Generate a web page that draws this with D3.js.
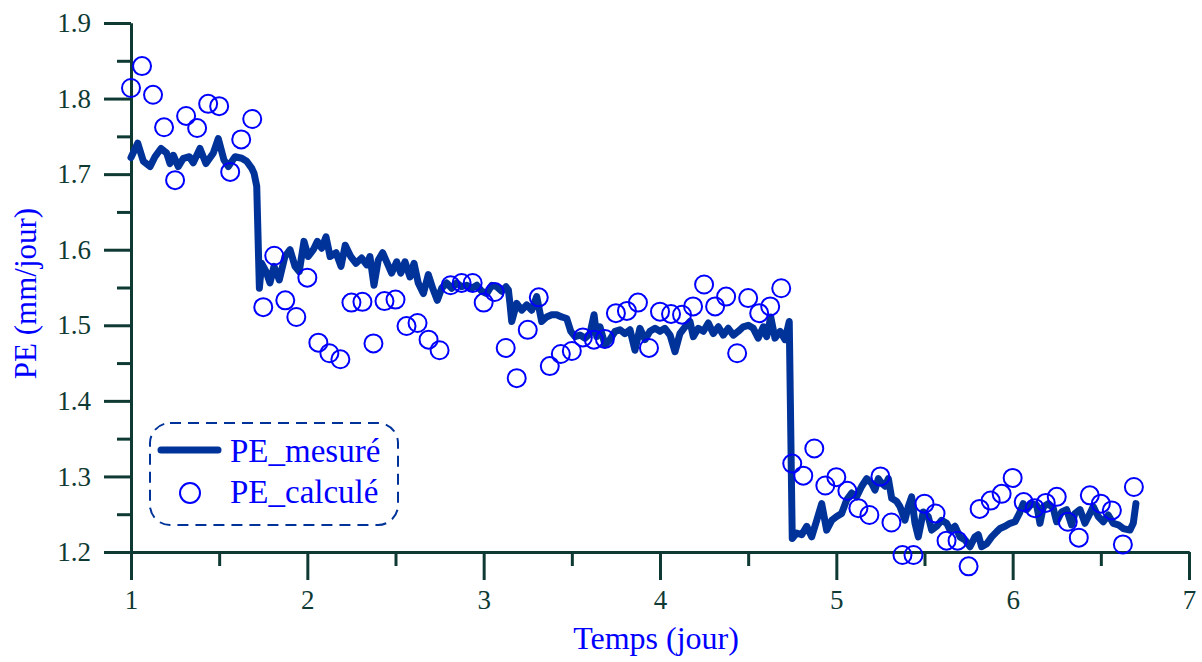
<html>
    <head>
        <title>PE mesuré / calculé</title>
        <script src="https://cdn.jsdelivr.net/npm/d3@7"></script>
        <style>
            body { margin: 0; background: #fff; }
            svg { display: block; }
            text { font-family: "Liberation Serif", "Times New Roman", serif; }
        </style>
    </head>
    <body>
        <svg id="chart"></svg>
    </body>
    <script>
        const WIDTH = 1202
        const HEIGHT = 662
        const MARGIN = {top: 23, left: 131, bottom: 110, right: 13}
        const AXIS_COLOR = "#0e3a33"
        const LINE_COLOR = "#003399"
        const POINT_COLOR = "#0000ff"

        const X_TICKS = [1, 2, 3, 4, 5, 6, 7]
        const X_MINOR = [1.5, 2.5, 3.5, 4.5, 5.5, 6.5]
        const Y_TICKS = [1.2, 1.3, 1.4, 1.5, 1.6, 1.7, 1.8, 1.9]
        const Y_MINOR = [1.25, 1.35, 1.45, 1.55, 1.65, 1.75, 1.85]

        // PE_mesuré : temps (jour) / valeur (mm/jour)
        const mesTime = [
            1.000, 1.038, 1.070, 1.108, 1.136, 1.170, 1.202, 1.221, 1.240, 1.268, 1.297, 1.331, 1.353, 1.391, 1.425,
            1.467, 1.495, 1.527, 1.552, 1.590, 1.628, 1.656, 1.684, 1.698, 1.713, 1.728,
            1.741, 1.766, 1.788, 1.811, 1.841, 1.873, 1.902, 1.930, 1.954, 1.981, 2.005, 2.034, 2.057, 2.081, 2.106,
            2.129, 2.163, 2.191, 2.215, 2.246, 2.276, 2.308, 2.337, 2.355, 2.378, 2.402, 2.427, 2.450, 2.478, 2.507,
            2.530, 2.554, 2.582, 2.605, 2.629, 2.658, 2.686, 2.711, 2.737, 2.762, 2.790, 2.819, 2.847, 2.875, 2.904,
            2.932, 2.961, 2.989, 3.017, 3.046, 3.074, 3.102, 3.127, 3.140, 3.149, 3.159, 3.187, 3.216, 3.244, 3.272,
            3.301, 3.329, 3.357, 3.386, 3.414, 3.442, 3.471, 3.494, 3.518, 3.546, 3.575, 3.603, 3.626, 3.641, 3.660,
            3.688, 3.716, 3.745, 3.773, 3.801, 3.830, 3.858, 3.886, 3.915, 3.943, 3.972, 4.000, 4.028, 4.057, 4.085,
            4.113, 4.142, 4.170, 4.189, 4.217, 4.246, 4.274, 4.302, 4.331, 4.359, 4.387, 4.416, 4.444, 4.472, 4.501,
            4.529, 4.557, 4.586, 4.605, 4.628, 4.652, 4.681, 4.709, 4.733, 4.750,
            4.775, 4.804, 4.832, 4.860, 4.889, 4.917, 4.945, 4.974, 5.002, 5.030, 5.059, 5.087, 5.115, 5.144, 5.172,
            5.200, 5.219, 5.238, 5.257, 5.276, 5.295, 5.314, 5.342, 5.361, 5.389, 5.408, 5.427, 5.446, 5.465, 5.493,
            5.521, 5.541, 5.569, 5.597, 5.626, 5.645, 5.673, 5.701, 5.730, 5.758, 5.786, 5.805, 5.824, 5.853, 5.881,
            5.910, 5.928, 5.957, 5.985, 6.013, 6.038, 6.060, 6.079, 6.108, 6.136, 6.155, 6.174, 6.202, 6.230, 6.249,
            6.278, 6.306, 6.334, 6.353, 6.382, 6.410, 6.438, 6.457, 6.485, 6.514, 6.542, 6.570, 6.599, 6.627, 6.665,
            6.684, 6.699
        ]
        const mesValue = [
            1.722, 1.741, 1.717, 1.710, 1.723, 1.734, 1.728, 1.714, 1.725, 1.710, 1.721, 1.723, 1.715, 1.734, 1.714,
            1.728, 1.747, 1.719, 1.710, 1.723, 1.721, 1.717, 1.708, 1.701, 1.684, 1.549,
            1.582, 1.571, 1.556, 1.578, 1.560, 1.591, 1.600, 1.578, 1.571, 1.611, 1.591, 1.600, 1.611, 1.602, 1.617,
            1.591, 1.596, 1.578, 1.606, 1.591, 1.582, 1.589, 1.580, 1.591, 1.553, 1.586, 1.596, 1.584, 1.569, 1.584,
            1.569, 1.584, 1.564, 1.582, 1.556, 1.542, 1.567, 1.549, 1.533, 1.549, 1.556, 1.549, 1.556, 1.551, 1.553,
            1.549, 1.553, 1.545, 1.542, 1.553, 1.551, 1.545, 1.551, 1.547, 1.529, 1.505, 1.529, 1.520, 1.527, 1.520,
            1.538, 1.505, 1.511, 1.514, 1.514, 1.511, 1.509, 1.492, 1.485, 1.487, 1.483, 1.489, 1.514, 1.485, 1.498,
            1.474, 1.481, 1.492, 1.494, 1.489, 1.494, 1.467, 1.496, 1.481, 1.492, 1.496, 1.492, 1.496, 1.487, 1.465,
            1.489, 1.498, 1.505, 1.485, 1.496, 1.492, 1.503, 1.489, 1.498, 1.487, 1.496, 1.487, 1.492, 1.498, 1.500,
            1.496, 1.483, 1.498, 1.485, 1.511, 1.483, 1.492, 1.481, 1.505, 1.218,
            1.225, 1.223, 1.234, 1.220, 1.242, 1.264, 1.229, 1.242, 1.247, 1.251, 1.269, 1.278, 1.273, 1.287, 1.297,
            1.291, 1.282, 1.297, 1.291, 1.287, 1.297, 1.271, 1.267, 1.260, 1.242, 1.260, 1.273, 1.238, 1.220, 1.253,
            1.247, 1.229, 1.234, 1.242, 1.238, 1.229, 1.234, 1.220, 1.216, 1.207, 1.220, 1.223, 1.207, 1.211, 1.220,
            1.227, 1.231, 1.234, 1.238, 1.240, 1.251, 1.264, 1.256, 1.264, 1.262, 1.238, 1.260, 1.264, 1.258, 1.240,
            1.253, 1.256, 1.236, 1.251, 1.256, 1.238, 1.251, 1.260, 1.247, 1.240, 1.249, 1.238, 1.236, 1.231, 1.229,
            1.238, 1.264
        ]

        // PE_calculé : temps (jour) / valeur (mm/jour)
        const calcTime = [
            1.0000, 1.0625, 1.1250, 1.1875, 1.2500, 1.3125, 1.3750, 1.4375, 1.5000, 1.5625, 1.6250, 1.6875,
            1.7500, 1.8125, 1.8750, 1.9375, 2.0000, 2.0625, 2.1250, 2.1875, 2.2500, 2.3125, 2.3750, 2.4375,
            2.5000, 2.5625, 2.6250, 2.6875, 2.7500, 2.8125, 2.8750, 2.9375, 3.0000, 3.0625, 3.1250, 3.1875,
            3.2500, 3.3125, 3.3750, 3.4375, 3.5000, 3.5625, 3.6250, 3.6875, 3.7500, 3.8125, 3.8750, 3.9375,
            4.0000, 4.0625, 4.1250, 4.1875, 4.2500, 4.3125, 4.3750, 4.4375, 4.5000, 4.5625, 4.6250, 4.6875,
            4.7500, 4.8125, 4.8750, 4.9375, 5.0000, 5.0625, 5.1250, 5.1875, 5.2500, 5.3125, 5.3750, 5.4375,
            5.5000, 5.5625, 5.6250, 5.6875, 5.7500, 5.8125, 5.8750, 5.9375, 6.0000, 6.0625, 6.1250, 6.1875,
            6.2500, 6.3125, 6.3750, 6.4375, 6.5000, 6.5625, 6.6250, 6.6875
        ]
        const calcValue = [
            1.814, 1.843, 1.805, 1.762, 1.692, 1.777, 1.761, 1.793, 1.790, 1.703, 1.746, 1.773,
            1.524, 1.592, 1.533, 1.511, 1.563, 1.477, 1.463, 1.455, 1.530, 1.531, 1.476, 1.532,
            1.534, 1.499, 1.503, 1.481, 1.467, 1.553, 1.556, 1.556, 1.530, 1.544, 1.470, 1.430,
            1.494, 1.537, 1.446, 1.462, 1.466, 1.484, 1.481, 1.482, 1.516, 1.519, 1.530, 1.470,
            1.518, 1.515, 1.514, 1.525, 1.554, 1.525, 1.538, 1.463, 1.536, 1.516, 1.525, 1.549,
            1.317, 1.301, 1.337, 1.288, 1.299, 1.281, 1.258, 1.249, 1.300, 1.239, 1.196, 1.196,
            1.264, 1.251, 1.215, 1.215, 1.181, 1.257, 1.268, 1.277, 1.298, 1.266, 1.258, 1.265,
            1.273, 1.240, 1.219, 1.275, 1.264, 1.255, 1.210, 1.286
        ]

        const LEGEND = ["PE_mesuré", "PE_calculé"]

        const svg = d3.select("#chart")
            .attr("width", WIDTH)
            .attr("height", HEIGHT)

        const xScale = d3.scaleLinear()
            .domain([1, 7])
            .range([MARGIN.left, WIDTH - MARGIN.right])

        const yScale = d3.scaleLinear()
            .domain([1.2, 1.9])
            .range([HEIGHT - MARGIN.bottom, MARGIN.top])

        function styleAxis(g) {
            g.select(".domain").attr("stroke", AXIS_COLOR).attr("stroke-width", 3)
            g.selectAll(".tick line").attr("stroke", AXIS_COLOR).attr("stroke-width", 3)
            g.selectAll(".tick text")
                .attr("fill", AXIS_COLOR)
                .style("font-size", "27px")
        }

        function drawAxes() {
            // minor ticks first, then majors with labels
            svg.append("g")
                .attr("transform", `translate(0,${yScale(1.2)})`)
                .call(d3.axisBottom(xScale).tickValues(X_MINOR).tickSize(14).tickSizeOuter(0).tickFormat(""))
                .call(styleAxis)
            svg.append("g")
                .attr("transform", `translate(0,${yScale(1.2)})`)
                .call(d3.axisBottom(xScale).tickValues(X_TICKS).tickSize(28).tickSizeOuter(0).tickPadding(10)
                    .tickFormat(d3.format("d")))
                .call(styleAxis)

            svg.append("g")
                .attr("transform", `translate(${xScale(1)},0)`)
                .call(d3.axisLeft(yScale).tickValues(Y_MINOR).tickSize(14).tickSizeOuter(0).tickFormat(""))
                .call(styleAxis)
            svg.append("g")
                .attr("transform", `translate(${xScale(1)},0)`)
                .call(d3.axisLeft(yScale).tickValues(Y_TICKS).tickSize(27).tickSizeOuter(0).tickPadding(13)
                    .tickFormat(d3.format(".1f")))
                .call(styleAxis)

            // axis titles
            svg.append("text")
                .text("Temps (jour)")
                .attr("x", (xScale(1) + xScale(7)) / 2 - 4)
                .attr("y", 649)
                .attr("text-anchor", "middle")
                .attr("fill", POINT_COLOR)
                .style("font-size", "32px")

            svg.append("text")
                .text("PE (mm/jour)")
                .attr("text-anchor", "middle")
                .attr("fill", POINT_COLOR)
                .style("font-size", "31px")
                .attr("transform", `translate(36,${(yScale(1.2) + yScale(1.9)) / 2 + 6}) rotate(-90)`)
        }

        function drawSeries() {
            const mesData = mesTime.map((t, i) => ({t: t, v: mesValue[i]}))
            const calcData = calcTime.map((t, i) => ({t: t, v: calcValue[i]}))

            const line = d3.line()
                .x(d => xScale(d.t))
                .y(d => yScale(d.v))

            svg.append("path")
                .datum(mesData)
                .attr("fill", "none")
                .attr("stroke", LINE_COLOR)
                .attr("stroke-width", 7)
                .attr("stroke-linejoin", "round")
                .attr("stroke-linecap", "round")
                .attr("d", line)

            svg.append("g")
                .selectAll("circle")
                .data(calcData)
                .enter()
                .append("circle")
                    .attr("cx", d => xScale(d.t))
                    .attr("cy", d => yScale(d.v))
                    .attr("r", 9)
                    .attr("fill", "none")
                    .attr("stroke", POINT_COLOR)
                    .attr("stroke-width", 2)
        }

        function drawLegend() {
            const g = svg.append("g").attr("transform", "translate(150,423)")
            g.append("rect")
                .attr("width", 248)
                .attr("height", 102)
                .attr("rx", 20)
                .attr("fill", "#fff")
                .attr("stroke", LINE_COLOR)
                .attr("stroke-width", 2)
                .attr("stroke-dasharray", "11,7")

            g.append("line")
                .attr("x1", 11).attr("x2", 68)
                .attr("y1", 27).attr("y2", 27)
                .attr("stroke", LINE_COLOR)
                .attr("stroke-width", 7)
                .attr("stroke-linecap", "round")

            g.append("circle")
                .attr("cx", 40).attr("cy", 70)
                .attr("r", 10)
                .attr("fill", "none")
                .attr("stroke", POINT_COLOR)
                .attr("stroke-width", 2)

            g.selectAll("text.lg")
                .data(LEGEND)
                .enter()
                .append("text")
                    .attr("class", "lg")
                    .attr("x", 80)
                    .attr("y", (d, i) => 39 + i * 41)
                    .attr("fill", POINT_COLOR)
                    .style("font-size", "33px")
                    .text(d => d)
        }

        drawAxes()
        drawSeries()
        drawLegend()
    </script>
</html>
